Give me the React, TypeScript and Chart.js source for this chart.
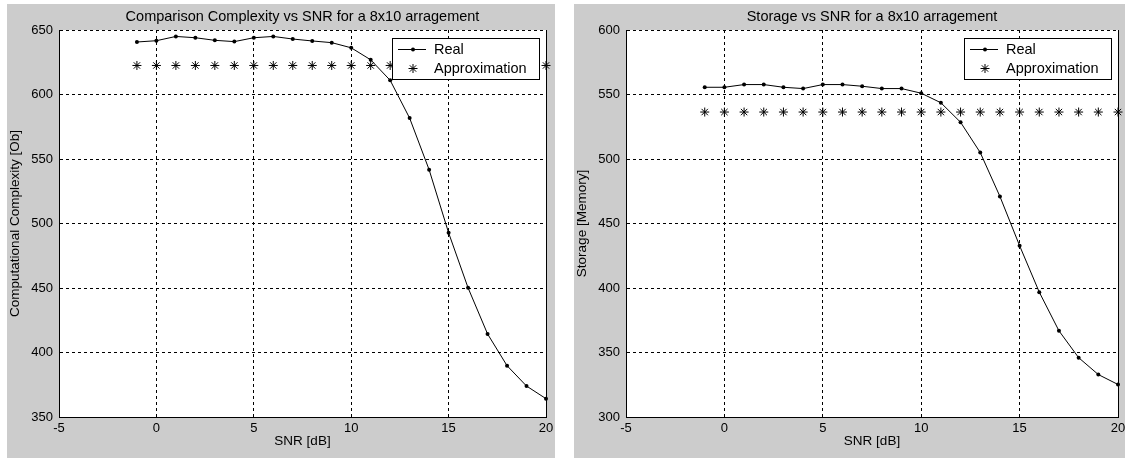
import React, { useEffect, useRef } from "react";
import { Chart, registerables } from "chart.js";

Chart.register(...registerables);

const snr = [-1, 0, 1, 2, 3, 4, 5, 6, 7, 8, 9, 10, 11, 12, 13, 14, 15, 16, 17, 18, 19, 20];

const complexityReal = [640.7, 641.7, 645, 644, 642, 641, 644, 645, 643, 641.5, 640.2, 636.2, 626.9, 611, 581.7, 541.7, 492.8, 450.1, 414.4, 389.8, 374, 364.2];
const complexityApprox = [622.5, 622.5, 622.5, 622.5, 622.5, 622.5, 622.5, 622.5, 622.5, 622.5, 622.5, 622.5, 622.5, 622.5, 622.5, 622.5, 622.5, 622.5, 622.5, 622.5, 622.5, 622.5];

const storageReal = [555.6, 555.6, 557.7, 557.7, 555.6, 554.6, 557.7, 557.7, 556.4, 554.6, 554.6, 551, 543.6, 528.5, 505, 471, 432.8, 396.8, 366.8, 346, 332.9, 325.2];
const storageApprox = [536.4, 536.4, 536.4, 536.4, 536.4, 536.4, 536.4, 536.4, 536.4, 536.4, 536.4, 536.4, 536.4, 536.4, 536.4, 536.4, 536.4, 536.4, 536.4, 536.4, 536.4, 536.4];

const seriesNames = ["Real", "Approximation"];
const xTitle = "SNR [dB]";
const leftTitle = "Comparison Complexity vs SNR for a 8x10 arragement";
const leftYTitle = "Computational Complexity [Ob]";
const rightTitle = "Storage vs SNR for a 8x10 arragement";
const rightYTitle = "Storage [Memory]";

const FONT = '"Liberation Sans", Arial, sans-serif';

const alignPx = (p: number) => Math.round(p - 0.5) + 0.5;

const frameAndLegend = {
  id: "frameAndLegend",
  beforeDraw(chart: any) {
    const { ctx, chartArea: a } = chart;
    ctx.save();
    ctx.fillStyle = "#ffffff";
    ctx.fillRect(a.left, a.top, a.right - a.left, a.bottom - a.top);
    ctx.restore();
  },
  afterDraw(chart: any) {
    const { ctx, chartArea: a } = chart;
    ctx.save();
    ctx.strokeStyle = "#000";
    ctx.lineWidth = 1;
    ctx.setLineDash([]);
    const rx = alignPx(a.right);
    ctx.beginPath();
    ctx.moveTo(rx, a.top);
    ctx.lineTo(rx, a.bottom);
    ctx.stroke();

    ctx.font = `14.5px ${FONT}`;
    const tw = Math.max(...chart.data.datasets.map((d: any) => ctx.measureText(d.label).width));
    const w = Math.round(42 + tw + 12);
    const h = 41;
    const bx = Math.round(a.right - 7 - w);
    const by = Math.round(a.top + 8);
    ctx.fillStyle = "#ffffff";
    ctx.fillRect(bx, by, w, h);
    ctx.strokeStyle = "#000";
    ctx.strokeRect(bx + 0.5, by + 0.5, w, h);

    const r1 = by + 11.5;
    const r2 = by + 30.5;
    const cx = bx + 21;
    ctx.beginPath();
    ctx.moveTo(bx + 6, r1);
    ctx.lineTo(bx + 34, r1);
    ctx.stroke();
    ctx.fillStyle = "#000";
    ctx.beginPath();
    ctx.arc(cx, r1, 2, 0, Math.PI * 2);
    ctx.fill();
    const r = 4.5;
    const d = Math.cos(Math.PI / 4) * r;
    ctx.beginPath();
    ctx.moveTo(cx - r, r2);
    ctx.lineTo(cx + r, r2);
    ctx.moveTo(cx, r2 - r);
    ctx.lineTo(cx, r2 + r);
    ctx.moveTo(cx - d, r2 - d);
    ctx.lineTo(cx + d, r2 + d);
    ctx.moveTo(cx - d, r2 + d);
    ctx.lineTo(cx + d, r2 - d);
    ctx.stroke();

    ctx.fillStyle = "#000";
    ctx.textBaseline = "middle";
    ctx.textAlign = "left";
    ctx.fillText(chart.data.datasets[0].label, bx + 42, r1);
    ctx.fillText(chart.data.datasets[1].label, bx + 42, r2);
    ctx.restore();
  },
};

function makeConfig(title: string, yTitle: string, yMin: number, yMax: number, real: number[], approx: number[], rightPad: number): any {
  const tickFont = { family: FONT, size: 13 };
  const labelFont = { family: FONT, size: 13.5 };
  return {
    type: "scatter",
    data: {
      datasets: [
        {
          label: seriesNames[0],
          data: snr.map((x, i) => ({ x, y: real[i] })),
          showLine: true,
          borderColor: "#000",
          borderWidth: 1,
          pointRadius: 2,
          pointBackgroundColor: "#000",
          pointBorderWidth: 0,
          tension: 0,
          clip: false,
        },
        {
          label: seriesNames[1],
          data: snr.map((x, i) => ({ x, y: approx[i] })),
          showLine: false,
          pointStyle: "star",
          pointRadius: 4.5,
          borderColor: "#000",
          pointBorderColor: "#000",
          pointBorderWidth: 1,
          clip: false,
        },
      ],
    },
    options: {
      animation: false,
      responsive: false,
      events: [],
      layout: { padding: { left: 0, right: rightPad, top: 0, bottom: 0 } },
      plugins: {
        legend: { display: false },
        tooltip: { enabled: false },
        title: {
          display: true,
          fullSize: false,
          text: title,
          color: "#000",
          font: { family: FONT, size: 14.5, weight: "normal" },
          padding: { top: 4.3, bottom: 4.3 },
        },
      },
      scales: {
        x: {
          type: "linear",
          min: -5,
          max: 20,
          ticks: { stepSize: 5, color: "#000", font: tickFont, padding: 4, maxRotation: 0 },
          grid: { color: "#000", lineWidth: 1, drawTicks: false },
          border: { display: true, color: "#000", width: 1, dash: [3, 3] },
          title: { display: true, text: xTitle, color: "#000", font: labelFont, padding: { top: 0, bottom: 9 } },
          afterFit: (s: any) => {
            s.height = 41;
            s.paddingLeft = 0;
            s.paddingRight = 0;
          },
        },
        y: {
          type: "linear",
          min: yMin,
          max: yMax,
          ticks: { stepSize: 50, color: "#000", font: tickFont, padding: 6 },
          grid: { color: "#000", lineWidth: 1, drawTicks: false },
          border: { display: true, color: "#000", width: 1, dash: [3, 3] },
          title: { display: true, text: yTitle, color: "#000", font: labelFont, padding: { top: 0, bottom: 0 } },
          afterFit: (s: any) => {
            s.width = 52;
            s.paddingTop = 0;
            s.paddingBottom = 0;
          },
        },
      },
    },
    plugins: [frameAndLegend],
  };
}

function Panel(props: { left: number; width: number; config: any }) {
  const ref = useRef<HTMLCanvasElement | null>(null);
  useEffect(() => {
    if (!ref.current) return;
    const chart = new Chart(ref.current, props.config);
    return () => chart.destroy();
  }, []);
  return (
    <div
      style={{
        position: "absolute",
        left: props.left,
        top: 4,
        width: props.width,
        height: 454,
        background: "#cccccc",
      }}
    >
      <canvas ref={ref} width={props.width} height={454} style={{ display: "block", width: props.width, height: 454 }} />
    </div>
  );
}

export default function App() {
  const leftCfg = makeConfig(leftTitle, leftYTitle, 350, 650, complexityReal, complexityApprox, 9);
  const rightCfg = makeConfig(rightTitle, rightYTitle, 300, 600, storageReal, storageApprox, 7);
  return (
    <div style={{ position: "absolute", left: 0, top: 0, width: 1125, height: 461, background: "#fff", overflow: "hidden" }}>
      <Panel left={7} width={548} config={leftCfg} />
      <Panel left={574} width={551} config={rightCfg} />
    </div>
  );
}
